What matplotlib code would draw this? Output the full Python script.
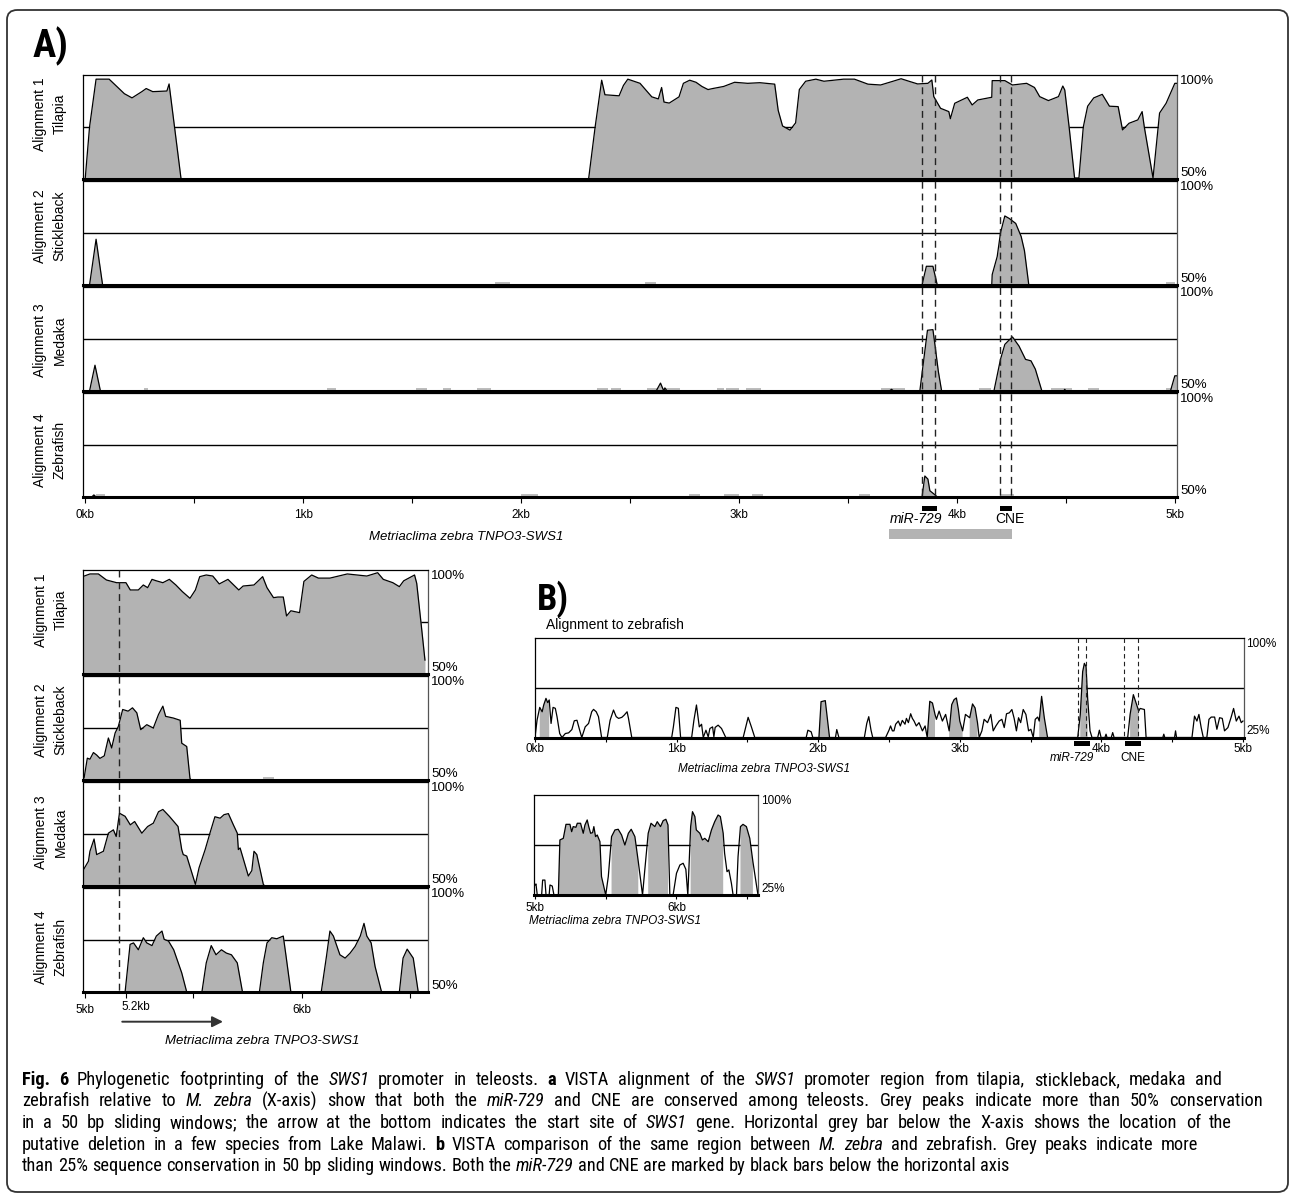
import numpy as np
import matplotlib
matplotlib.use('Agg')
import matplotlib.pyplot as plt
from matplotlib import font_manager, transforms
from matplotlib.patches import Rectangle, FancyArrowPatch, FancyBboxPatch
from matplotlib.lines import Line2D

plt.rcParams['font.family'] = ['Liberation Sans', 'DejaVu Sans']

# ---------------- data (kb, % identity) ----------------
# panel A, 0-5kb, 50-100%
tilapia_a = [(-0.01, 50), (0.00, 50), (0.02, 75), (0.05, 98), (0.11, 98), (0.13, 96), (0.18, 91),
             (0.215, 89), (0.26, 92), (0.28, 93.5), (0.31, 92), (0.375, 92.3), (0.385, 95.7),
             (0.41, 75), (0.44, 50), (2.31, 50), (2.34, 75), (2.37, 97.5), (2.385, 90.5), (2.45, 90),
             (2.47, 95), (2.49, 98), (2.546, 96), (2.60, 89.5), (2.63, 88.5), (2.645, 94), (2.656, 87),
             (2.68, 86.5), (2.725, 89.5), (2.745, 96), (2.774, 97.5), (2.803, 96.5), (2.83, 94.5),
             (2.858, 93), (2.88, 93.5), (2.93, 94.5), (2.98, 96.5), (3.04, 96), (3.096, 96.3),
             (3.164, 95.6), (3.18, 83), (3.20, 75.5), (3.234, 73.5), (3.26, 77), (3.277, 93),
             (3.306, 97), (3.353, 98), (3.39, 97), (3.48, 98), (3.53, 98), (3.592, 95.6), (3.65, 95.2),
             (3.707, 97), (3.744, 98.2), (3.78, 97), (3.82, 95.7), (3.867, 96), (3.885, 97.6),
             (3.894, 89.6), (3.925, 84), (3.963, 82.4), (3.97, 79), (3.99, 86.4), (4.048, 89.3),
             (4.07, 85.6), (4.096, 88), (4.16, 89.3), (4.162, 97.3), (4.22, 97.3), (4.255, 95.2),
             (4.32, 96), (4.356, 94), (4.38, 89.6), (4.42, 87.7), (4.466, 89.6), (4.486, 94.7),
             (4.495, 92.8), (4.515, 75), (4.54, 50.5), (4.56, 50.5), (4.58, 75), (4.60, 85),
             (4.628, 89), (4.667, 90.7), (4.70, 85), (4.74, 84.8), (4.76, 73.6), (4.79, 76.8),
             (4.83, 78.4), (4.85, 82.4), (4.86, 75), (4.90, 50.5), (4.93, 81.7), (4.96, 86.4),
             (5.0, 96), (5.01, 96)]
stickleback_a = [(-0.01, 50), (0.02, 50), (0.05, 72), (0.08, 50), (3.84, 50), (3.86, 59), (3.89, 59),
                 (3.91, 50), (4.16, 50), (4.162, 55), (4.185, 63.7), (4.20, 75), (4.22, 83.2),
                 (4.24, 82), (4.27, 79.6), (4.295, 73.3), (4.31, 66.5), (4.33, 50), (5.01, 50)]
medaka_a = [(-0.01, 50), (0.02, 50), (0.045, 62.4), (0.07, 50), (2.62, 50), (2.64, 53.8), (2.655, 50),
            (2.66, 51.5), (2.67, 50), (3.69, 50), (3.70, 50.8), (3.71, 50), (3.83, 50), (3.85, 66.8),
            (3.865, 79.2), (3.89, 79.5), (3.90, 71.6), (3.915, 59.3), (3.93, 50), (4.17, 50),
            (4.20, 65.2), (4.22, 72.4), (4.235, 74), (4.255, 76), (4.285, 71.6), (4.315, 65.2),
            (4.34, 64.5), (4.36, 60.5), (4.39, 50), (4.49, 50), (4.495, 50.8), (4.50, 50), (4.98, 50),
            (5.0, 57.3), (5.01, 57.3)]
zebrafish_a = [(-0.01, 50), (0.03, 50), (0.04, 51), (0.05, 50), (3.84, 50), (3.853, 60.1),
               (3.867, 58.6), (3.876, 53), (3.9, 51), (3.91, 50), (5.01, 50)]

# light grey stretches on the baseline
stickleback_a_marks = [(1.88, 1.95), (2.57, 2.62), (4.96, 5.0)]
medaka_a_marks = [(0.27, 0.29), (1.11, 1.15), (1.52, 1.57), (1.64, 1.68), (1.80, 1.86), (2.35, 2.40),
                  (2.415, 2.46), (2.58, 2.73), (2.90, 2.93), (2.94, 3.0), (3.03, 3.1), (3.65, 3.76),
                  (4.10, 4.155), (4.43, 4.53), (4.60, 4.65), (4.96, 5.0)]
zebrafish_a_marks = [(0.05, 0.09), (2.0, 2.08), (2.77, 2.82), (2.93, 3.0), (3.06, 3.11), (3.55, 3.6),
                     (4.2, 4.26)]

# panel A lower block, 5-6.6kb
tilapia_bl = [(4.99, 96.8), (5.024, 98.1), (5.063, 98.1), (5.10, 95.2), (5.147, 93.9), (5.19, 93.9),
              (5.21, 90.4), (5.247, 90.4), (5.27, 92.8), (5.29, 91.5), (5.31, 95.5), (5.33, 94.8),
              (5.36, 93.9), (5.39, 95.5), (5.42, 92.8), (5.45, 89.6), (5.485, 86.4), (5.51, 90.4),
              (5.53, 96.8), (5.56, 97.6), (5.59, 97.1), (5.62, 93.3), (5.66, 95.5), (5.71, 90.4),
              (5.73, 92.3), (5.78, 92.8), (5.82, 96.8), (5.84, 91.5), (5.87, 86.7), (5.89, 87),
              (5.915, 87), (5.93, 77.9), (5.95, 80.4), (5.99, 79.5), (6.01, 94.5), (6.046, 97.6),
              (6.077, 96.1), (6.13, 96.1), (6.21, 98.1), (6.30, 97.1), (6.35, 98.7), (6.376, 95.5),
              (6.42, 93.9), (6.45, 92), (6.47, 94.8), (6.52, 97.6), (6.53, 93.6), (6.55, 74.4),
              (6.568, 56.7)]
stickleback_bl = [(4.997, 51), (5.012, 60.5), (5.024, 60), (5.04, 63.2), (5.055, 62), (5.07, 60.4),
                  (5.09, 61.6), (5.109, 70.2), (5.124, 65.4), (5.14, 72.6), (5.155, 75.8), (5.175, 83.9),
                  (5.2, 83.1), (5.22, 84.7), (5.24, 82.3), (5.258, 74.2), (5.286, 76.6), (5.316, 75),
                  (5.34, 81.5), (5.36, 85.5), (5.373, 80.6), (5.408, 79.8), (5.44, 78.7), (5.447, 67.7),
                  (5.47, 66.1), (5.485, 50.8), (5.49, 50), (6.58, 50)]
medaka_bl = [(4.99, 57.1), (5.017, 61.9), (5.024, 66.7), (5.043, 72.6), (5.055, 65.1), (5.086, 66.7),
             (5.109, 75.4), (5.132, 77), (5.145, 73.8), (5.16, 85), (5.186, 83.5), (5.21, 79.4),
             (5.23, 81), (5.263, 75.4), (5.29, 78.6), (5.316, 80.2), (5.34, 85.7), (5.36, 86.8),
             (5.39, 83.5), (5.43, 78.6), (5.447, 67.5), (5.454, 65.1), (5.47, 64.4), (5.51, 50.8),
             (5.527, 58.8), (5.555, 67.5), (5.577, 75.4), (5.6, 83.3), (5.624, 82.6), (5.642, 84.3),
             (5.662, 84.8), (5.685, 79.4), (5.703, 75.4), (5.708, 67.5), (5.716, 68.3), (5.754, 54.8),
             (5.77, 57.4), (5.78, 66.7), (5.793, 65.1), (5.823, 50.8), (5.83, 50), (6.58, 50)]
zebrafish_bl = [(4.99, 50), (5.186, 50), (5.209, 72.9), (5.225, 73.6), (5.247, 70.3), (5.27, 76.1),
                (5.286, 73.6), (5.31, 72.3), (5.33, 76.9), (5.356, 79.3), (5.366, 75.3), (5.386, 74.5),
                (5.41, 70.3), (5.447, 59.2), (5.47, 50), (5.54, 50), (5.56, 64), (5.583, 72.3),
                (5.605, 67.9), (5.63, 70.3), (5.653, 68.7), (5.676, 67.9), (5.703, 64), (5.727, 50),
                (5.805, 50), (5.823, 64), (5.84, 73.6), (5.862, 76.1), (5.885, 75.6), (5.915, 76.9),
                (5.928, 67.1), (5.95, 50), (6.09, 50), (6.114, 67.1), (6.13, 79.3), (6.146, 76.9),
                (6.176, 67.9), (6.2, 66.3), (6.223, 68.7), (6.246, 71.9), (6.27, 76.9), (6.287, 83),
                (6.3, 76.9), (6.32, 73.6), (6.338, 62.3), (6.368, 50), (6.45, 50), (6.467, 66.3),
                (6.486, 70.6), (6.514, 66.3), (6.537, 50), (6.58, 50)]
stickleback_bl_marks = [(5.82, 5.87)]

# panel B, alignment to zebrafish, 25-100%
zebra_b = [(0, 25.5), (0.014, 38), (0.033, 47.7), (0.05, 44.4), (0.061, 49.5), (0.077, 54.5), (0.089, 51.3),
           (0.10, 53.3), (0.113, 35.6), (0.127, 47.7), (0.143, 47), (0.155, 40.7), (0.174, 28), (0.19, 25),
           (0.214, 28), (0.237, 28.5), (0.26, 31), (0.277, 37.6), (0.296, 38), (0.315, 30.5), (0.33, 25),
           (0.354, 33), (0.378, 35.6), (0.40, 44.4), (0.413, 46.2), (0.432, 44.4), (0.448, 40.7),
           (0.47, 25), (0.51, 25), (0.53, 38), (0.554, 45.7), (0.573, 40.7), (0.59, 39.4), (0.613, 40.2),
           (0.63, 41.9), (0.65, 44.4), (0.66, 39.4), (0.683, 25), (0.965, 25), (0.977, 33), (0.995, 47.7),
           (1.012, 47), (1.028, 25), (1.106, 25), (1.122, 38), (1.14, 49.5), (1.16, 33), (1.176, 35),
           (1.188, 25), (1.207, 30.5), (1.223, 25.5), (1.235, 31.8), (1.254, 33), (1.263, 25.5),
           (1.272, 32.6), (1.293, 34.3), (1.317, 31.8), (1.347, 25), (1.47, 25), (1.488, 33),
           (1.505, 40.2), (1.528, 33), (1.552, 25), (1.915, 25), (1.927, 30.5), (1.95, 29.3),
           (1.962, 25), (2.005, 25), (2.02, 52), (2.05, 52.8), (2.08, 25), (2.122, 25), (2.131, 31),
           (2.146, 25), (2.326, 25), (2.343, 35.6), (2.357, 40.7), (2.373, 30.5), (2.385, 25),
           (2.476, 25), (2.5, 30.5), (2.511, 33.7), (2.524, 30), (2.535, 30), (2.547, 35), (2.566, 37.4),
           (2.58, 33.7), (2.594, 37.9), (2.613, 35), (2.623, 39.4), (2.637, 36.2), (2.653, 42.9),
           (2.665, 39.4), (2.677, 37.4), (2.693, 33.7), (2.712, 36.2), (2.736, 30), (2.755, 33.7),
           (2.77, 25), (2.788, 52.3), (2.807, 51), (2.825, 42.4), (2.835, 38.7), (2.854, 44.9),
           (2.877, 37.4), (2.90, 42.4), (2.925, 30), (2.943, 49.8), (2.96, 53.6), (2.976, 54.8),
           (2.99, 46.1), (3.0, 37.4), (3.02, 30), (3.04, 42.4), (3.07, 39.9), (3.09, 50.3), (3.108, 47.3),
           (3.125, 36.2), (3.137, 25), (3.156, 30), (3.172, 38.7), (3.196, 36.2), (3.219, 42.4),
           (3.236, 30), (3.255, 33.7), (3.278, 37.4), (3.297, 38.7), (3.314, 32.5), (3.33, 42.9),
           (3.35, 43.6), (3.368, 46.1), (3.384, 39.4), (3.4, 30), (3.415, 39.9), (3.43, 36.2),
           (3.448, 46.1), (3.467, 42.4), (3.486, 30), (3.502, 31.2), (3.519, 25), (3.533, 38.7),
           (3.55, 40.4), (3.561, 37.4), (3.578, 56), (3.597, 39.9), (3.62, 25), (3.833, 25),
           (3.851, 42.4), (3.868, 74.7), (3.88, 80.9), (3.892, 78.4), (3.903, 54.8), (3.92, 30),
           (3.934, 25), (3.974, 25), (3.986, 30.5), (3.998, 25), (4.025, 25), (4.033, 27.5), (4.04, 25),
           (4.07, 25), (4.08, 28.7), (4.09, 25), (4.186, 25), (4.203, 42.4), (4.226, 57.3),
           (4.245, 51.1), (4.264, 44.9), (4.274, 46.9), (4.304, 46.1), (4.316, 25), (4.434, 25),
           (4.441, 27.5), (4.448, 25), (4.517, 25), (4.524, 30), (4.531, 25), (4.64, 25), (4.658, 41.1),
           (4.675, 37.4), (4.689, 42.4), (4.705, 32.5), (4.72, 25), (4.745, 25), (4.76, 38.7),
           (4.776, 40.4), (4.80, 40.4), (4.816, 31.2), (4.835, 39.9), (4.854, 39.4), (4.87, 30),
           (4.894, 32.5), (4.917, 40.4), (4.934, 46.9), (4.953, 37.4), (4.972, 41.1), (4.988, 36.2),
           (5.0, 37.4)]
zebra_b_grey = [(0.033, 0.10), (2.005, 2.08), (2.77, 2.825), (2.925, 3.02), (3.07, 3.125),
                (3.561, 3.62), (3.851, 3.903), (4.203, 4.264)]

zebra_inset = [(5.0, 32.5), (5.007, 33.3), (5.016, 25), (5.047, 25), (5.054, 36.2), (5.07, 36.2),
               (5.078, 25), (5.1, 25), (5.106, 32.5), (5.122, 31.7), (5.134, 25), (5.165, 25),
               (5.176, 66.3), (5.2, 67.5), (5.219, 78), (5.247, 78), (5.259, 72.5), (5.27, 76.3),
               (5.289, 75.8), (5.299, 78.8), (5.322, 78.8), (5.341, 71.3), (5.353, 77.5), (5.369, 81.3),
               (5.38, 76.3), (5.393, 71.3), (5.407, 71.8), (5.416, 76.3), (5.428, 68.8), (5.44, 70),
               (5.459, 65), (5.47, 38.8), (5.5, 25), (5.518, 38.8), (5.541, 68.8), (5.565, 73.8),
               (5.588, 74.3), (5.612, 70), (5.635, 62.5), (5.66, 71.3), (5.68, 74.3), (5.706, 68.8),
               (5.73, 50), (5.76, 25), (5.776, 43.8), (5.8, 71.3), (5.82, 78.8), (5.847, 76.3),
               (5.864, 80), (5.887, 76.3), (5.906, 80.8), (5.925, 81.8), (5.94, 77.5), (5.953, 25),
               (5.976, 25), (6.0, 41.3), (6.024, 47.5), (6.047, 48.8), (6.066, 44.3), (6.08, 25),
               (6.1, 76.3), (6.113, 87.5), (6.13, 83.8), (6.14, 73.8), (6.165, 71.3), (6.183, 66.3),
               (6.2, 67.5), (6.224, 65), (6.247, 73.8), (6.27, 80), (6.294, 85), (6.31, 83.8),
               (6.33, 71.3), (6.34, 56.3), (6.357, 42.5), (6.37, 43.8), (6.388, 33.8), (6.4, 25),
               (6.424, 25), (6.435, 53.8), (6.452, 76.3), (6.47, 78), (6.494, 76.3), (6.518, 67.5),
               (6.54, 50), (6.565, 32.5), (6.576, 25)]
zebra_inset_grey = [(5.165, 5.5), (5.541, 5.73), (5.8, 5.94), (6.1, 6.33), (6.452, 6.54)]

# features (kb)
mir_a, cne_a, deletion_a = (3.84, 3.91), (4.20, 4.255), (3.69, 4.255)
dash_a = [3.84, 3.90, 4.20, 4.25]
dash_bl = [5.16]
tss_arrow = (5.16, 5.65)
mir_b, cne_b = (3.81, 3.92), (4.17, 4.28)
dash_b = [3.835, 3.89, 4.16, 4.26]

track_names = ['Alignment 1\nTilapia', 'Alignment 2\nStickleback', 'Alignment 3\nMedaka',
               'Alignment 4\nZebrafish']

# ---------------- figure ----------------
W, H = 1290, 1196
GREY = '#b3b3b3'
MARK = '#bdbdbd'
fig = plt.figure(figsize=(W / 100, H / 100), dpi=100)

avail = {f.name for f in font_manager.fontManager.ttflist}
NARROW = next((n for n in ['Liberation Sans Narrow', 'Roboto Condensed', 'Open Sans Condensed']
               if n in avail), 'Liberation Sans')


def fy(py):
    return 1 - py / H


def px_axes(left, top, right, bottom):
    return fig.add_axes([left / W, 1 - bottom / H, (right - left) / W, (bottom - top) / H])


def blend(ax):
    return transforms.blended_transform_factory(ax.transData, fig.transFigure)


def draw_track(ax, pts, lo, hi, xlim, grey=None, marks=()):
    x, y = np.array(pts).T
    ax.axhline((lo + hi) / 2, color='black', lw=1, zorder=1)
    if grey is None:
        ax.fill_between(x, lo, y, color=GREY, lw=0, zorder=2)
    else:
        mask = np.zeros(len(x), bool)
        for a, b in grey:
            mask |= (x >= a - 1e-9) & (x <= b + 1e-9)
        ax.fill_between(x, lo, y, where=mask, color=GREY, lw=0, zorder=2)
    for a, b in marks:
        ax.add_patch(Rectangle((a, lo), b - a, (hi - lo) * 0.028, color=MARK, lw=0, zorder=2))
    ax.plot(x, y, color='black', lw=0.9, zorder=3)
    ax.set_xlim(*xlim)
    ax.set_ylim(lo, hi)
    ax.set_yticks([])
    ax.set_xticks([])
    for s in ax.spines.values():
        s.set_linewidth(0.9)
    ax.spines['right'].set_color('#555555')
    ax.spines['bottom'].set_linewidth(2.2)


def right_labels(ax, top_txt, bot_txt, size):
    w = ax.get_position().width * W
    dx = 3 / w
    ax.text(1 + dx, 1.0, top_txt, transform=ax.transAxes, ha='left', va='top', fontsize=size)
    ax.text(1 + dx, 0.0, bot_txt, transform=ax.transAxes, ha='left', va='bottom', fontsize=size)


def kb_ticks(ax, ticks, labels, pad, length=4):
    ax.set_xticks(ticks)
    ax.set_xticklabels(labels)
    ax.tick_params(axis='x', direction='out', length=length, width=0.8, pad=pad, labelsize=8.5)


def vdash(ax, xs, top, bottom, lw, dashes):
    for xv in xs:
        fig.add_artist(Line2D([xv, xv], [fy(top), fy(bottom)], transform=blend(ax), color='#222222',
                              lw=lw, dashes=dashes, zorder=5))


def feature_bar(ax, span, top, bottom, color):
    fig.add_artist(Rectangle((span[0], fy(bottom)), span[1] - span[0], (bottom - top) / H,
                             transform=blend(ax), color=color, lw=0, zorder=5))


# ---- panel A, 0-5kb ----
fig.text(33 / W, fy(46), 'A)', fontsize=28, fontweight='bold', family=NARROW, va='center', ha='left')
a_series = [tilapia_a, stickleback_a, medaka_a, zebrafish_a]
a_marks = [(), stickleback_a_marks, medaka_a_marks, zebrafish_a_marks]
a_tops = [75, 181, 287, 393]
a_label_y = [114, 226, 340, 450]
a_axes = []
for i in range(4):
    ax = px_axes(83, a_tops[i], 1177, a_tops[i] + 104)
    draw_track(ax, a_series[i], 50, 100, (-0.01, 5.01), marks=a_marks[i])
    right_labels(ax, '100%', '50%', 9.5)
    fig.text(50 / W, fy(a_label_y[i]), track_names[i], rotation=90, ha='center', va='center',
             multialignment='center', fontsize=10, linespacing=1.5)
    a_axes.append(ax)
ticks = np.arange(0, 5.01, 0.5)
kb_ticks(a_axes[3], ticks, ['%dkb' % t if t == int(t) else '' for t in ticks], pad=4.3)
vdash(a_axes[0], dash_a, 75, 497, 1.0, (5, 3.5))
feature_bar(a_axes[0], mir_a, 506, 511, 'black')
feature_bar(a_axes[0], cne_a, 506, 511, 'black')
feature_bar(a_axes[0], deletion_a, 529, 539, GREY)
fig.text(916 / W, fy(519), 'miR-729', style='italic', fontsize=10, ha='center', va='center')
fig.text(1010 / W, fy(519), 'CNE', fontsize=10, ha='center', va='center')
fig.text(466 / W, fy(537), 'Metriaclima zebra TNPO3-SWS1', style='italic', fontsize=9.5,
         ha='center', va='center')

# ---- panel A, 5-6.6kb ----
bl_series = [tilapia_bl, stickleback_bl, medaka_bl, zebrafish_bl]
bl_marks = [(), stickleback_bl_marks, (), ()]
bl_tops = [570, 676, 782, 888]
bl_label_y = [610, 720, 832, 947]
bl_axes = []
for i in range(4):
    ax = px_axes(83, bl_tops[i], 428, bl_tops[i] + 104)
    draw_track(ax, bl_series[i], 50, 100, (4.992, 6.582), marks=bl_marks[i])
    right_labels(ax, '100%', '50%', 9.5)
    fig.text(51 / W, fy(bl_label_y[i]), track_names[i], rotation=90, ha='center', va='center',
             multialignment='center', fontsize=10, linespacing=1.5)
    bl_axes.append(ax)
kb_ticks(bl_axes[3], [5, 5.19, 5.5, 6, 6.5], ['5kb', '', '', '6kb', ''], pad=4.3)
fig.text(136 / W, fy(1006.5), '5.2kb', fontsize=8.5, ha='center', va='center')
vdash(bl_axes[0], dash_bl, 570, 992, 1.0, (5, 3.5))
fig.add_artist(FancyArrowPatch((tss_arrow[0], fy(1021.7)), (tss_arrow[1], fy(1021.7)),
                               transform=blend(bl_axes[0]), arrowstyle='-|>', mutation_scale=16,
                               lw=1.4, color='#333333'))
fig.text(261.7 / W, fy(1041), 'Metriaclima zebra TNPO3-SWS1', style='italic', fontsize=9.5,
         ha='center', va='center')

# ---- panel B ----
fig.text(537 / W, fy(599), 'B)', fontsize=26, fontweight='bold', family=NARROW, va='center', ha='left')
fig.text(546 / W, fy(625), 'Alignment to zebrafish', fontsize=10, ha='left', va='center')
axb = px_axes(534.5, 638, 1243.5, 737.5)
draw_track(axb, zebra_b, 25, 100, (-0.004, 5.004), grey=zebra_b_grey)
right_labels(axb, '100%', '25%', 8.5)
ticks = np.arange(0, 5.01, 0.5)
kb_ticks(axb, ticks, ['%dkb' % t if t == int(t) else '' for t in ticks], pad=1.0, length=3)
vdash(axb, dash_b, 638, 737.5, 0.8, (4, 3))
feature_bar(axb, mir_b, 740.5, 746, 'black')
feature_bar(axb, cne_b, 740.5, 746, 'black')
fig.text(1071.8 / W, fy(758.3), 'miR-729', style='italic', fontsize=8.5, ha='center', va='center')
fig.text(1133 / W, fy(758.3), 'CNE', fontsize=8.5, ha='center', va='center')
fig.text(764.5 / W, fy(769.3), 'Metriaclima zebra TNPO3-SWS1', style='italic', fontsize=8.5,
         ha='center', va='center')

axi = px_axes(534, 795, 758, 895)
draw_track(axi, zebra_inset, 25, 100, (4.993, 6.576), grey=zebra_inset_grey)
right_labels(axi, '100%', '25%', 8.5)
kb_ticks(axi, [5, 5.5, 6, 6.5], ['5kb', '', '6kb', ''], pad=2.0, length=3)
fig.text(615 / W, fy(920.7), 'Metriaclima zebra TNPO3-SWS1', style='italic', fontsize=8.5,
         ha='center', va='center')

# ---- outer frame ----
fig.add_artist(FancyBboxPatch((7 / W, fy(1192)), (1288 - 7) / W, (1192 - 10) / H,
                              boxstyle='round,pad=0,rounding_size=0.008', transform=fig.transFigure,
                              fill=False, ec='#333333', lw=1.3, zorder=0))

# ---- caption ----
caption = [
    [('Fig. 6', 'b'), ('Phylogenetic footprinting of the', 'n'), ('SWS1', 'i'), ('promoter in teleosts.', 'n'),
     ('a', 'b'), ('VISTA alignment of the', 'n'), ('SWS1', 'i'),
     ('promoter region from tilapia, stickleback, medaka and', 'n')],
    [('zebrafish relative to', 'n'), ('M. zebra', 'i'), ('(X-axis) show that both the', 'n'), ('miR-729', 'i'),
     ('and CNE are conserved among teleosts. Grey peaks indicate more than 50% conservation', 'n')],
    [('in a 50 bp sliding windows; the arrow at the bottom indicates the start site of', 'n'), ('SWS1', 'i'),
     ('gene. Horizontal grey bar below the X-axis shows the location of the', 'n')],
    [('putative deletion in a few species from Lake Malawi.', 'n'), ('b', 'b'),
     ('VISTA comparison of the same region between', 'n'), ('M. zebra', 'i'),
     ('and zebrafish. Grey peaks indicate more', 'n')],
    [('than 25% sequence conservation in 50 bp sliding windows. Both the', 'n'), ('miR-729', 'i'),
     ('and CNE are marked by black bars below the horizontal axis', 'n')],
]
cap_right = [1222, 1263, 1232, 1198, 934]
cap_base = [1085, 1106.5, 1128, 1149.5, 1171]
cap_x0 = 22
renderer = fig.canvas.get_renderer()


def style_kw(st, size):
    return dict(fontsize=size, family=NARROW, fontweight='bold' if st == 'b' else 'normal',
                fontstyle='italic' if st == 'i' else 'normal')


def text_width(s, st, size):
    t = fig.text(0, 0, s, **style_kw(st, size))
    w = t.get_window_extent(renderer).width
    t.remove()
    return w


tokens = [[(w, st) for run, st in line for w in run.split()] for line in caption]
base = 10.0
sp = text_width('a a', 'n', base) - text_width('aa', 'n', base)
fits = []
for li, toks in enumerate(tokens):
    nat = sum(text_width(w, st, base) for w, st in toks) + (len(toks) - 1) * sp
    fits.append(base * (cap_right[li] - cap_x0) / nat)
size = 0.5 * (fits[4] + min(fits[:4]))
sp = sp * size / base
for li, toks in enumerate(tokens):
    widths = [text_width(w, st, size) for w, st in toks]
    if li < 4:
        gap = max((cap_right[li] - cap_x0 - sum(widths)) / (len(toks) - 1), 0.8 * sp)
    else:
        gap = sp
    x = cap_x0
    for (w, st), wd in zip(toks, widths):
        fig.text(x / W, fy(cap_base[li]), w, va='baseline', ha='left', **style_kw(st, size))
        x += wd + gap

fig.savefig('out.png', dpi=100)
